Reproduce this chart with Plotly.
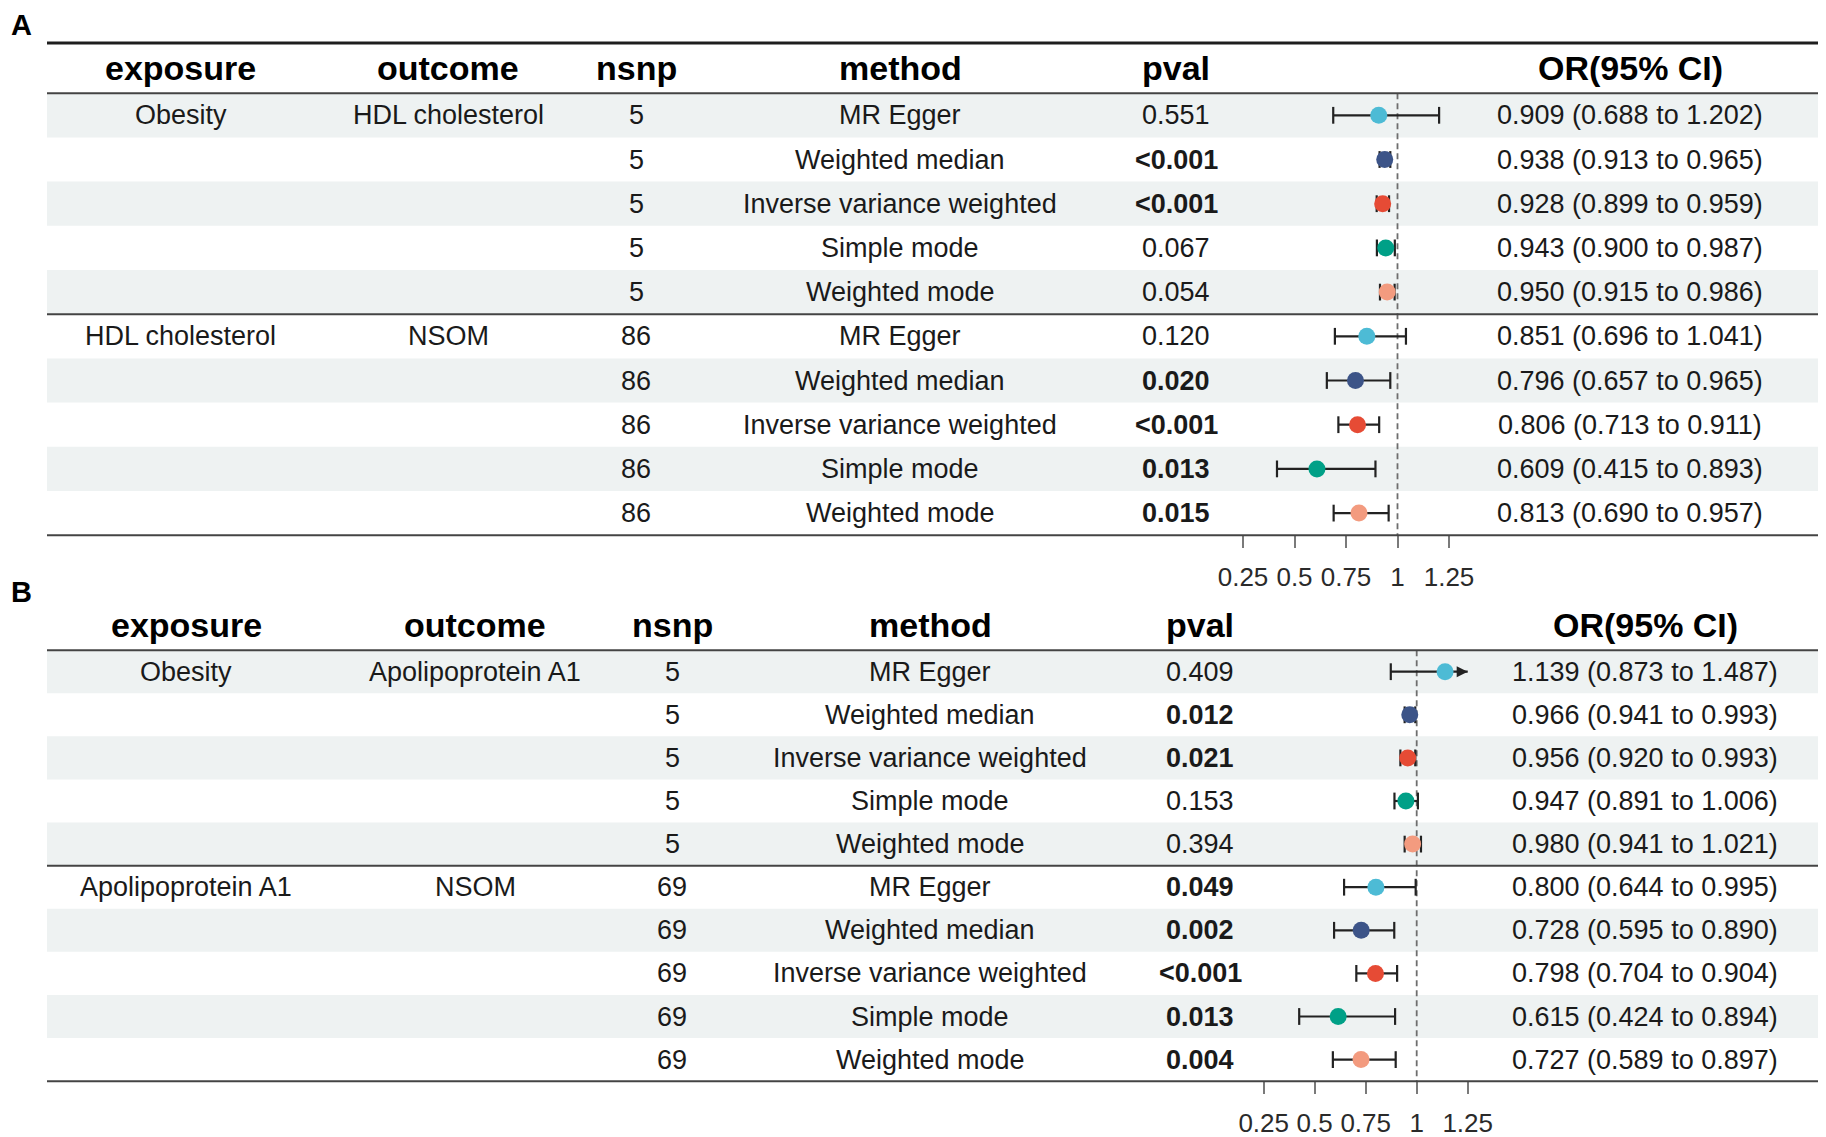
import plotly.graph_objects as go

W, H = 1826, 1137
OFF = 8  # page body margin: the figure is drawn 8px right/down of the window origin
FONT = "Liberation Sans, Arial, sans-serif"

# ---------------- data ----------------
methods = ["MR Egger", "Weighted median", "Inverse variance weighted", "Simple mode", "Weighted mode"]
method_colors = ["#4DBBD5", "#3C5488", "#E64B35", "#00A087", "#F39B7F"]
headers = ["exposure", "outcome", "nsnp", "method", "pval", "OR(95% CI)"]
tick_vals = [0.25, 0.5, 0.75, 1, 1.25]
tick_text = ["0.25", "0.5", "0.75", "1", "1.25"]
axis_max = 1.25

a_exposure = ["Obesity", "", "", "", "", "HDL cholesterol", "", "", "", ""]
a_outcome = ["HDL cholesterol", "", "", "", "", "NSOM", "", "", "", ""]
a_nsnp = [5, 5, 5, 5, 5, 86, 86, 86, 86, 86]
a_method = methods + methods
a_pval = ["0.551", "<0.001", "<0.001", "0.067", "0.054", "0.120", "0.020", "<0.001", "0.013", "0.015"]
a_or = [0.909, 0.938, 0.928, 0.943, 0.950, 0.851, 0.796, 0.806, 0.609, 0.813]
a_lo = [0.688, 0.913, 0.899, 0.900, 0.915, 0.696, 0.657, 0.713, 0.415, 0.690]
a_hi = [1.202, 0.965, 0.959, 0.987, 0.986, 1.041, 0.965, 0.911, 0.893, 0.957]

b_exposure = ["Obesity", "", "", "", "", "Apolipoprotein A1", "", "", "", ""]
b_outcome = ["Apolipoprotein A1", "", "", "", "", "NSOM", "", "", "", ""]
b_nsnp = [5, 5, 5, 5, 5, 69, 69, 69, 69, 69]
b_method = methods + methods
b_pval = ["0.409", "0.012", "0.021", "0.153", "0.394", "0.049", "0.002", "<0.001", "0.013", "0.004"]
b_or = [1.139, 0.966, 0.956, 0.947, 0.980, 0.800, 0.728, 0.798, 0.615, 0.727]
b_lo = [0.873, 0.941, 0.920, 0.891, 0.941, 0.644, 0.595, 0.704, 0.424, 0.589]
b_hi = [1.487, 0.993, 0.993, 1.006, 1.021, 0.995, 0.890, 0.904, 0.894, 0.897]

# ---------------- layout config (window pixels) ----------------
panels = [
    dict(label="A", label_xy=(21, OFF), label_anchor="top", top_line=43, header_py=68,
         row0=115.3, row_h=44.2, one_px=1397.5, unit_px=206.0,
         cols=[180.5, 448, 636, 900, 1176, 1630],
         exposure=a_exposure, outcome=a_outcome, nsnp=a_nsnp, method=a_method,
         pval=a_pval, orv=a_or, lo=a_lo, hi=a_hi, xa="x", ya="y"),
    dict(label="B", label_xy=(21, 592), label_anchor="middle", top_line=None, header_py=625,
         row0=671.7, row_h=43.1, one_px=1416.7, unit_px=204.0,
         cols=[186, 475, 672, 930, 1200, 1645],
         exposure=b_exposure, outcome=b_outcome, nsnp=b_nsnp, method=b_method,
         pval=b_pval, orv=b_or, lo=b_lo, hi=b_hi, xa="x2", ya="y2"),
]
LINE_X0, LINE_X1 = 47, 1819
SHADE = "#EEF2F2"
TXT = "#1a1a1a"


def fx(px):
    return (px - OFF) / W


def fy(py):
    return 1 - (py - OFF) / H


fig = go.Figure()
shapes = []
annotations = []
layout_axes = {}


def is_sig(p):
    if p.startswith("<"):
        return True
    return float(p) < 0.05


for k, P in enumerate(panels):
    n = len(P["orv"])
    xa, ya = P["xa"], P["ya"]
    xname = "xaxis" if xa == "x" else "xaxis" + xa[1:]
    yname = "yaxis" if ya == "y" else "yaxis" + ya[1:]

    def v_of(py, P=P):
        return (py - P["row0"]) / P["row_h"]

    def u_of(px, P=P):
        return 1 + (px - P["one_px"]) / P["unit_px"]

    bottom_py = P["row0"] + (n - 0.5) * P["row_h"]
    layout_axes[xname] = dict(
        domain=[0, 1], range=[u_of(OFF), u_of(W + OFF)], anchor="free",
        position=fy(bottom_py), side="bottom",
        tickmode="array", tickvals=tick_vals, ticktext=tick_text,
        ticks="outside", ticklen=12, tickwidth=1.6, tickcolor="#7a7a7a",
        ticklabelstandoff=7,
        tickfont=dict(family=FONT, size=26, color="#2a2a2a"),
        showgrid=False, zeroline=False, showline=False, fixedrange=True,
    )
    if xa != "x":
        layout_axes[xname]["overlaying"] = "x"
    layout_axes[yname] = dict(
        domain=[0, 1], range=[v_of(H + OFF), v_of(OFF)], visible=False,
        showgrid=False, zeroline=False, fixedrange=True,
    )
    if ya != "y":
        layout_axes[yname]["overlaying"] = "y"
        layout_axes[yname]["anchor"] = "free"

    # shaded rows
    for i in range(0, n, 2):
        shapes.append(dict(type="rect", xref="paper", yref=ya,
                           x0=fx(LINE_X0), x1=fx(LINE_X1), y0=i - 0.5, y1=i + 0.5,
                           fillcolor=SHADE, line=dict(width=0), layer="below"))
    # reference line at OR = 1
    shapes.append(dict(type="line", xref=xa, yref=ya, x0=1, x1=1, y0=-0.5, y1=n - 0.5,
                       line=dict(color="#6e6e6e", width=1.8, dash="6px,4px"), layer="below"))
    # horizontal rules
    if P["top_line"] is not None:
        shapes.append(dict(type="line", xref="paper", yref="paper",
                           x0=fx(LINE_X0), x1=fx(LINE_X1),
                           y0=fy(P["top_line"]), y1=fy(P["top_line"]),
                           line=dict(color="#1e1e1e", width=3)))
    for yb in [-0.5, 4.5, n - 0.5]:
        shapes.append(dict(type="line", xref="paper", yref=ya,
                           x0=fx(LINE_X0), x1=fx(LINE_X1), y0=yb, y1=yb,
                           line=dict(color="#444444", width=2)))

    # panel label
    annotations.append(dict(text="<b>%s</b>" % P["label"], xref="paper", yref="paper",
                            x=fx(P["label_xy"][0]), y=fy(P["label_xy"][1]),
                            showarrow=False, xanchor="center", yanchor=P["label_anchor"],
                            borderpad=0,
                            font=dict(family=FONT, size=29, color="#000000")))
    # headers
    for c, htxt in enumerate(headers):
        annotations.append(dict(text="<b>%s</b>" % htxt, xref="paper", yref="paper",
                                x=fx(P["cols"][c]), y=fy(P["header_py"]),
                                showarrow=False, xanchor="center", yanchor="middle",
                                font=dict(family=FONT, size=34, color="#000000")))
    # cells
    for i in range(n):
        p = P["pval"][i]
        ptxt = p.replace("<", "&lt;")
        if is_sig(p):
            ptxt = "<b>%s</b>" % ptxt
        ortxt = "%.3f (%.3f to %.3f)" % (P["orv"][i], P["lo"][i], P["hi"][i])
        cells = [P["exposure"][i], P["outcome"][i], str(P["nsnp"][i]), P["method"][i], ptxt, ortxt]
        for c, t in enumerate(cells):
            if t == "":
                continue
            annotations.append(dict(text=t, xref="paper", yref=ya,
                                    x=fx(P["cols"][c]), y=i,
                                    showarrow=False, xanchor="center", yanchor="middle",
                                    font=dict(family=FONT, size=27, color=TXT)))

    # CI lines
    lx, ly, capx, capy = [], [], [], []
    for i in range(n):
        hi_c = min(P["hi"][i], axis_max)
        lx += [P["lo"][i], hi_c, None]
        ly += [i, i, None]
        capx.append(P["lo"][i]); capy.append(i)
        if P["hi"][i] <= axis_max:
            capx.append(P["hi"][i]); capy.append(i)
        else:
            annotations.append(dict(x=axis_max, y=i, ax=axis_max - 0.06, ay=i,
                                    xref=xa, yref=ya, axref=xa, ayref=ya,
                                    text="", showarrow=True, arrowhead=2, arrowsize=1.1,
                                    arrowwidth=2, arrowcolor="#222222"))
    fig.add_trace(go.Scatter(x=lx, y=ly, mode="lines", xaxis=xa, yaxis=ya,
                             line=dict(color="#222222", width=2.2), hoverinfo="skip"))
    fig.add_trace(go.Scatter(x=capx, y=capy, mode="markers", xaxis=xa, yaxis=ya,
                             marker=dict(symbol="line-ns", size=12,
                                         line=dict(color="#222222", width=2.2)),
                             hoverinfo="skip"))
    # points, one trace per method
    for m, col in zip(methods, method_colors):
        idx = [i for i in range(n) if P["method"][i] == m]
        fig.add_trace(go.Scatter(x=[P["orv"][i] for i in idx], y=idx, mode="markers",
                                 xaxis=xa, yaxis=ya, name=m,
                                 marker=dict(size=17, color=col, line=dict(width=0))))

fig.update_layout(
    width=W, height=H, margin=dict(l=0, r=0, t=0, b=0),
    paper_bgcolor="white", plot_bgcolor="white", showlegend=False,
    shapes=shapes, annotations=annotations, **layout_axes,
)
fig.write_html("out.html")
